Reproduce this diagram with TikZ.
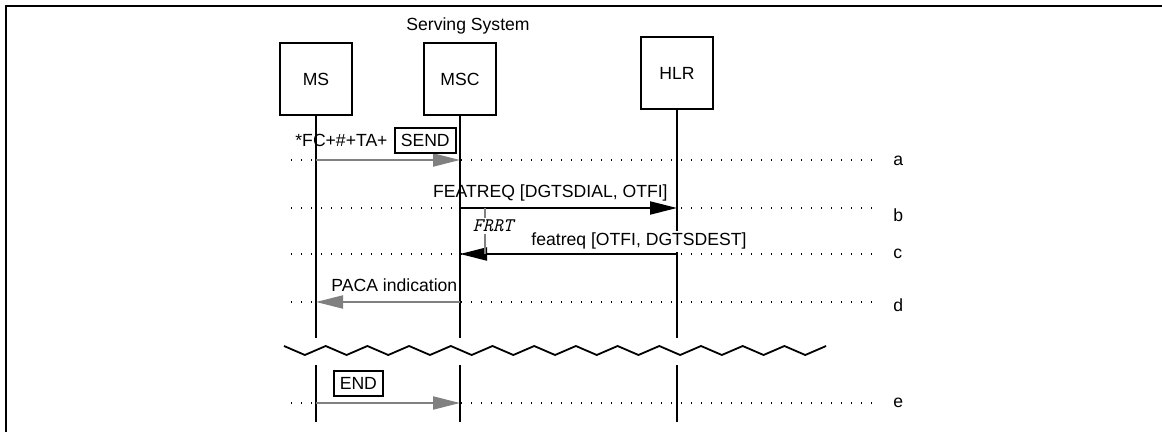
\documentclass[tikz,border=0pt]{standalone}
\usepackage{fontspec}
\setmainfont{Liberation Sans}
\usetikzlibrary{arrows.meta}

\begin{document}
\begin{tikzpicture}[x=0.5pt, y=-0.5pt, font=\fontsize{8.8}{10.5}\selectfont,
  entity/.style={draw, line width=0.8pt, minimum width=36pt, minimum height=36pt, inner sep=0pt},
  life/.style={line width=0.9pt},
  guide/.style={line width=0.6pt, dash pattern=on 0.6pt off 4.4pt},
  msg/.style={line width=1pt, -{Triangle[length=13.5pt, width=6.5pt]}},
  grey msg/.style={msg, gray},
  keybox/.style={draw, line width=0.8pt, inner xsep=3pt, inner ysep=3pt, text height=6.4pt, text depth=0pt},
  msglabel/.style={inner sep=0pt}]

  \useasboundingbox (0,0) rectangle (1162,432);
  \draw[line width=1pt] (1162,6) -- (6,6) -- (6,432);

  % entities
  \node[entity] (ms) at (316,79) {MS};
  \node[entity] (msc) at (460,79) {MSC};
  \node[entity] (hlr) at (677,73) {HLR};
  \node (sys) at (468,26) {Serving System};

  % rows a..e
  \foreach \r/\y/\b in {a/160/166, b/208/222, c/254/259, d/302/312, e/403/408} {
    \coordinate (row\r) at (291,\y);
    \draw[guide] (row\r) -- (873,\y);
    \node[anchor=base west, inner sep=0pt] (lbl\r) at (893,\b) {\r};
  }

  % lifelines, broken at the wave
  \coordinate (brkup) at (0,338);
  \coordinate (brkdown) at (0,365);
  \coordinate (bottom) at (0,422);
  \foreach \n in {ms,msc,hlr} {
    \draw[life] (\n.south) -- (\n |- brkup);
    \draw[life] (\n |- brkdown) -- (\n |- bottom);
  }
  \draw[line width=0.9pt] (284,346) \foreach \k in {1,...,13} { -- ++(20.85,9) -- ++(20.85,-9) };

  % messages
  \draw[grey msg] (ms |- rowa) -- (msc |- rowa);
  \draw[msg] (msc |- rowb) -- (hlr |- rowb);
  \draw[msg] (hlr |- rowc) -- (msc |- rowc);
  \draw[grey msg] (msc |- rowd) -- (ms |- rowd);
  \draw[grey msg] (ms |- rowe) -- (msc |- rowe);

  % timer
  \coordinate (frrttop) at (485,208);
  \draw[gray, line width=1pt] (frrttop) -- (frrttop |- rowc);
  \node[fill=white, inner sep=1pt, font=\ttfamily\itshape\fontsize{9.6}{10}\selectfont] (frrt) at (493,226) {FRRT};

  % labels
  \node[msglabel, anchor=base west] (dial) at (295,147) {*FC+\#+TA+};
  \node[keybox, anchor=west] (send) at (394,140.5) {SEND};
  \node[msglabel, anchor=base east] (featreq) at (668,197.5) {FEATREQ [DGTSDIAL, OTFI]};
  \node[anchor=base west, fill=white, inner sep=1pt] (featresp) at (529,246) {featreq [OTFI, DGTSDEST]};
  \node[msglabel, anchor=base west] (paca) at (331,292) {PACA indication};
  \node[keybox, anchor=west] (stop) at (333,383.5) {END};
\end{tikzpicture}
\end{document}
